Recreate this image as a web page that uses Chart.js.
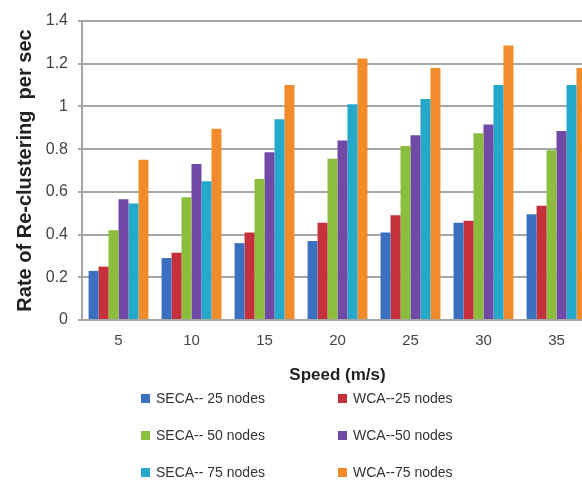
<!DOCTYPE html>
<html>
<head>
<meta charset="utf-8">
<script src="https://cdn.jsdelivr.net/npm/chart.js@4/dist/chart.umd.min.js"></script>
<style>
  html, body { margin: 0; padding: 0; background: #fff; overflow: hidden; }
  #wrap { position: relative; width: 582px; height: 483px; overflow: hidden; }
  #box { position: absolute; left: 0; top: 0; width: 600px; height: 392px; }
  #legend { position: absolute; left: 0; top: 0; width: 582px; height: 483px; pointer-events: none;
    font-family: "Liberation Sans", Arial, sans-serif; font-size: 14px; color: #333; }
  .item { position: absolute; white-space: nowrap; line-height: 16px; }
  .item span { display: inline-block; width: 9px; height: 9px; margin-right: 6px; vertical-align: 0px; }
</style>
</head>
<body>
<div id="wrap">
  <div id="box"><canvas id="chart"></canvas></div>
  <div id="legend"></div>
</div>
<script>
  //chart data
  let speeds = ["5", "10", "15", "20", "25", "30", "35"];
  let seca25 = [0.23, 0.29, 0.36, 0.37, 0.41, 0.455, 0.495];
  let wca25 = [0.25, 0.315, 0.41, 0.455, 0.49, 0.465, 0.535];
  let seca50 = [0.42, 0.575, 0.66, 0.755, 0.815, 0.875, 0.795];
  let wca50 = [0.565, 0.73, 0.785, 0.84, 0.865, 0.915, 0.885];
  let seca75 = [0.545, 0.65, 0.94, 1.01, 1.035, 1.1, 1.1];
  let wca75 = [0.75, 0.895, 1.1, 1.225, 1.18, 1.285, 1.18];
  let seriesNames = ["SECA-- 25 nodes", "WCA--25 nodes", "SECA-- 50 nodes", "WCA--50 nodes", "SECA-- 75 nodes", "WCA--75 nodes"];
  let seriesColors = ["#3b6fc0", "#c4313a", "#8cbe3e", "#7149a6", "#25a9cb", "#f28b2a"];
  let yTicks = [0, 0.2, 0.4, 0.6, 0.8, 1, 1.2, 1.4];

  let seriesValues = [seca25, wca25, seca50, wca50, seca75, wca75];
  let datasets = seriesValues.map(function (values, i) {
    return {
      label: seriesNames[i],
      data: values,
      backgroundColor: seriesColors[i],
      borderWidth: 0,
      barPercentage: 1.0,
      categoryPercentage: 0.82
    };
  });

  let font = "'Liberation Sans', Arial, sans-serif";

  let chart = new Chart("chart", {
    type: "bar",
    data: { labels: speeds, datasets: datasets },
    options: {
      responsive: true,
      maintainAspectRatio: false,
      animation: false,
      layout: { padding: { left: 11, right: 7, top: 21, bottom: 0 } },
      plugins: {
        legend: { display: false },
        tooltip: { enabled: false }
      },
      scales: {
        x: {
          grid: { display: false, drawTicks: false },
          border: { display: false },
          ticks: { color: "#444", font: { family: font, size: 15 }, padding: 12 },
          title: {
            display: true, text: "Speed (m/s)", color: "#222",
            font: { family: font, size: 17, weight: "bold" },
            padding: { top: 0, bottom: 6 }
          },
          afterFit: function (scale) { scale.height = 72; }
        },
        y: {
          min: 0, max: 1.4,
          afterBuildTicks: function (scale) {
            scale.ticks = yTicks.map(function (v) { return { value: v }; });
          },
          grid: { color: "#a6a6a6", lineWidth: 2, drawTicks: true, tickLength: 4 },
          border: { display: true, color: "#a6a6a6", width: 2 },
          ticks: {
            color: "#444", font: { family: font, size: 16 }, padding: 10,
            callback: function (v) { return String(Math.round(v * 10) / 10); }
          },
          title: {
            display: true, text: "Rate of Re-clustering  per sec", color: "#222",
            font: { family: font, size: 20, weight: "bold" },
            padding: { top: 2, bottom: 0 }
          },
          afterFit: function (scale) { scale.width = 71; }
        }
      }
    }
  });

  //legend, two columns
  let legendTag = document.querySelector("#legend");
  let colX = [141, 338];
  let rowY = [390, 427, 464];
  chart.data.datasets.forEach(function (ds, i) {
    let div = document.createElement("div");
    div.className = "item";
    div.style.left = colX[i % 2] + "px";
    div.style.top = rowY[Math.floor(i / 2)] + "px";
    div.innerHTML = `<span style="background:${ds.backgroundColor}"></span>${ds.label}`;
    legendTag.appendChild(div);
  });
</script>
</body>
</html>
